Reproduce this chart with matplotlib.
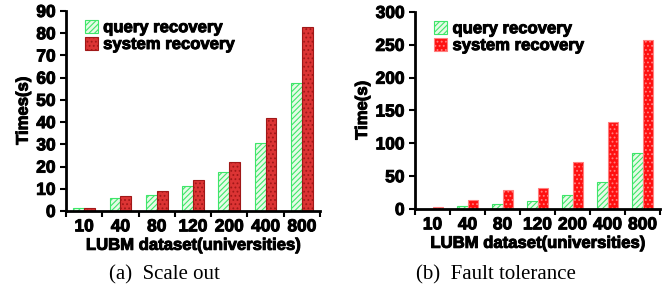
import numpy as np
import matplotlib.pyplot as plt
import matplotlib.patheffects as pe
from matplotlib import font_manager as fm

plt.rcParams['hatch.linewidth'] = 0.8
plt.rcParams['font.family'] = 'Liberation Sans'
plt.rcParams['font.weight'] = 'bold'
plt.rcParams['axes.labelweight'] = 'bold'

sizes = ['10', '40', '80', '120', '200', '400', '800']

# (a) scale out
scale_query = [1.3, 5.8, 7.2, 11.2, 17.5, 30.5, 57.5]
scale_system = [1.5, 6.7, 9.0, 14.0, 22.0, 42.0, 83.0]

# (b) fault tolerance
fault_query = [0.5, 4.0, 8.0, 12.0, 22.0, 41.0, 85.0]
fault_system = [3.0, 14.0, 29.0, 32.0, 72.0, 132.0, 257.0]

W, H = 671, 289
fig = plt.figure(figsize=(W / 100, H / 100), dpi=100)

bf = fm.FontProperties(family='Liberation Sans', weight='bold', size=12.5)
lf = fm.FontProperties(family='Liberation Sans', weight='bold', size=12)
thick = [pe.withStroke(linewidth=0.7, foreground='black')]


def panel(rect, q, s, ymax, ystep, ylabel, caption, cx, red, redhatch, lx):
    ax = fig.add_axes(rect)
    x = np.arange(len(sizes))
    w = 0.3
    ax.bar(x - w / 2, q, w, facecolor='#e6fbe6', edgecolor='#3ee66a',
           hatch='//////', linewidth=0.8, label='query recovery')
    ax.bar(x + w / 2, s, w, facecolor=red, edgecolor=redhatch,
           hatch='....', linewidth=0.8, label='system recovery')
    ax.set_xlim(-0.5, len(sizes) - 0.5)
    ax.set_ylim(0, ymax)
    ax.set_yticks(np.arange(0, ymax + 1, ystep))
    ax.set_xticks(np.arange(-0.5, len(sizes)), minor=False)
    ax.set_xticklabels([])
    ax.set_xticks(x, minor=True)
    ax.set_xticklabels(sizes, minor=True, fontproperties=bf)
    ax.tick_params(axis='x', which='major', direction='out', length=4, width=1.5)
    ax.tick_params(axis='x', which='minor', length=0, pad=6)
    ax.tick_params(axis='y', direction='out', length=4, width=1.5)
    for t in ax.get_yticklabels() + ax.get_xticklabels(minor=True):
        t.set_fontproperties(bf)
        t.set_path_effects(thick)
    for sp in ['top', 'right']:
        ax.spines[sp].set_visible(False)
    for sp in ['left', 'bottom']:
        ax.spines[sp].set_linewidth(2)
    yl = ax.set_ylabel(ylabel, fontproperties=lf, labelpad=4)
    xl = ax.set_xlabel('LUBM dataset(universities)', fontproperties=lf, labelpad=2.5)
    yl.set_path_effects(thick)
    xl.set_path_effects(thick)
    leg = ax.legend(loc='upper left', bbox_to_anchor=(lx, 1.03), frameon=False,
                    handlelength=0.8, handleheight=0.8, handletextpad=0.3,
                    labelspacing=0.1, prop=lf)
    for t in leg.get_texts():
        t.set_path_effects(thick)
    fig.text(cx / W, 1 - 275 / H, caption, ha='center', va='center',
             family='Liberation Serif', weight='normal', fontsize=15)
    return ax


panel([66 / W, 1 - 211 / H, 254 / W, 200 / H], scale_query, scale_system,
      90, 10, 'Times(s)', '(a)  Scale out', 164, '#dc3434', '#a01818', 0.015)
panel([415 / W, 1 - 209 / H, 245 / W, 197 / H], fault_query, fault_system,
      300, 50, 'Time(s)', '(b)  Fault tolerance', 496, '#ff1010', '#ff8080', 0.017)

fig.savefig('out.png', dpi=100)
